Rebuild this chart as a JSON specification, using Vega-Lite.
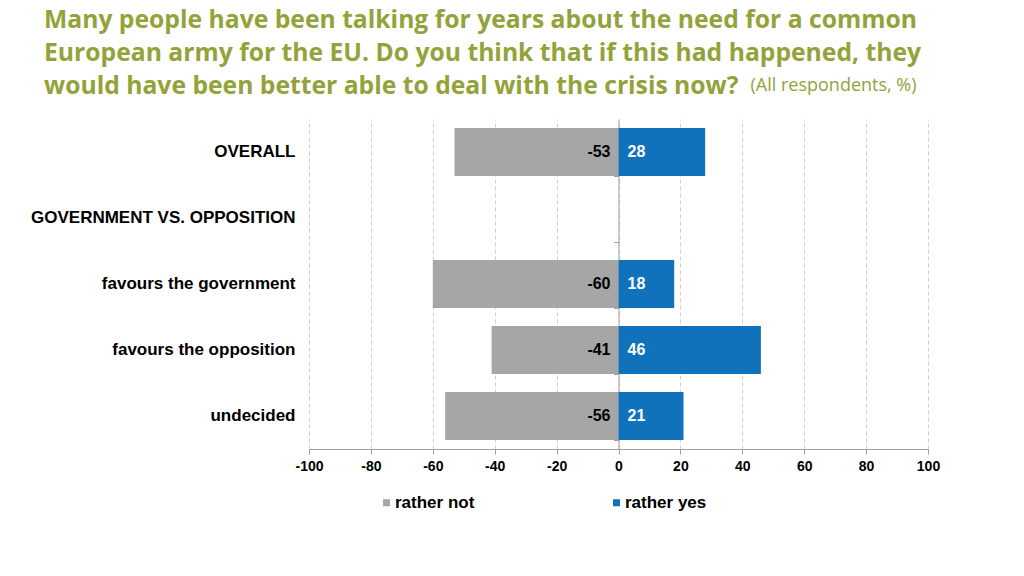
{
  "$schema": "https://vega.github.io/schema/vega-lite/v6.json",
  "autosize": "none",
  "width": 619,
  "height": 330,
  "padding": {"left": 309, "top": 119, "right": 96, "bottom": 127},
  "background": "white",
  "title": {
    "text": [
      "Many people have been talking for years about the need for a common",
      "European army for the EU. Do you think that if this had happened, they",
      "would have been better able to deal with the crisis now?"
    ],
    "subtitle": "\u200b\u2003\u2003\u2003\u2003\u2003\u2003\u2003\u2003\u2003\u2003\u2003\u2003\u2003\u2003\u2003\u2003\u2003\u2003\u2003\u2003\u2003\u2003\u2003\u2003\u2003\u2003\u2003\u2003\u2003\u2003\u2003\u2003\u2003\u2003\u2003\u2003\u2003\u2003\u2003\u2005(All respondents, %)",
    "anchor": "start",
    "frame": "group",
    "dx": -265,
    "offset": 20,
    "font": "Open Sans",
    "fontSize": 24.7,
    "fontWeight": "bold",
    "color": "#94A23A",
    "lineHeight": 33,
    "subtitleFont": "Open Sans",
    "subtitleFontSize": 18,
    "subtitleFontWeight": "normal",
    "subtitleColor": "#94A23A",
    "subtitlePadding": -22
  },
  "data": {
    "values": [
      {"group": "OVERALL", "answer": "rather not", "value": -53},
      {"group": "OVERALL", "answer": "rather yes", "value": 28},
      {"group": "favours the government", "answer": "rather not", "value": -60},
      {"group": "favours the government", "answer": "rather yes", "value": 18},
      {"group": "favours the opposition", "answer": "rather not", "value": -41},
      {"group": "favours the opposition", "answer": "rather yes", "value": 46},
      {"group": "undecided", "answer": "rather not", "value": -56},
      {"group": "undecided", "answer": "rather yes", "value": 21}
    ]
  },
  "resolve": {"axis": {"y": "independent"}},
  "layer": [
    {
      "mark": {"type": "bar"},
      "encoding": {
        "y": {
          "field": "group",
          "type": "nominal",
          "scale": {
            "domain": ["OVERALL", "GOVERNMENT VS. OPPOSITION", "favours the government", "favours the opposition", "undecided"],
            "paddingInner": 0.273,
            "paddingOuter": 0.1365
          },
          "axis": {
            "orient": "left",
            "title": null,
            "domain": false,
            "ticks": false,
            "grid": false,
            "labelPadding": 14,
            "labelFont": "Liberation Sans",
            "labelFontSize": 17,
            "labelFontWeight": "bold",
            "labelColor": "#000000",
            "labelLimit": 400
          }
        },
        "x": {
          "field": "value",
          "type": "quantitative",
          "stack": null,
          "scale": {"domain": [-100, 100], "nice": false, "zero": false},
          "axis": {
            "title": null,
            "values": [-100, -80, -60, -40, -20, 0, 20, 40, 60, 80, 100],
            "grid": true,
            "gridDash": [4, 3],
            "gridColor": "#CFCFCF",
            "gridWidth": 1,
            "domainColor": "#A0A0A0",
            "tickColor": "#A0A0A0",
            "tickSize": 5,
            "labelFlush": false,
            "labelPadding": 5,
            "labelFont": "Liberation Sans",
            "labelFontSize": 14,
            "labelFontWeight": "bold",
            "labelColor": "#000000"
          }
        },
        "color": {
          "field": "answer",
          "type": "nominal",
          "scale": {"domain": ["rather not", "rather yes"], "range": ["#A6A6A6", "#1072BA"]},
          "legend": {
            "title": null,
            "orient": "none",
            "legendX": 69,
            "legendY": 375,
            "direction": "horizontal",
            "columns": 2,
            "columnPadding": 133,
            "symbolType": "square",
            "symbolSize": 49,
            "symbolStrokeWidth": 0,
            "labelOffset": 0,
            "labelFont": "Liberation Sans",
            "labelFontSize": 17,
            "labelFontWeight": "bold",
            "labelColor": "#000000"
          }
        }
      }
    },
    {
      "transform": [{"filter": "datum.value < 0"}],
      "mark": {"type": "text", "align": "right", "baseline": "middle", "dx": -8, "font": "Liberation Sans", "fontSize": 16, "fontWeight": "bold", "color": "#000000"},
      "encoding": {
        "y": {
          "field": "group",
          "type": "nominal",
          "scale": {
            "domain": ["OVERALL", "GOVERNMENT VS. OPPOSITION", "favours the government", "favours the opposition", "undecided"],
            "paddingInner": 0.273,
            "paddingOuter": 0.1365
          },
          "axis": {
            "orient": "left",
            "offset": -309.5,
            "title": null,
            "labels": false,
            "grid": false,
            "domain": true,
            "domainColor": "#A0A0A0",
            "ticks": true,
            "tickBand": "extent",
            "tickColor": "#A0A0A0",
            "tickSize": 5
          }
        },
        "x": {"datum": 0, "type": "quantitative"},
        "text": {"field": "value", "type": "quantitative"}
      }
    },
    {
      "transform": [{"filter": "datum.value > 0"}],
      "mark": {"type": "text", "align": "left", "baseline": "middle", "dx": 9, "font": "Liberation Sans", "fontSize": 16, "fontWeight": "bold", "color": "#FFFFFF"},
      "encoding": {
        "y": {
          "field": "group",
          "type": "nominal",
          "scale": {
            "domain": ["OVERALL", "GOVERNMENT VS. OPPOSITION", "favours the government", "favours the opposition", "undecided"],
            "paddingInner": 0.273,
            "paddingOuter": 0.1365
          },
          "axis": null
        },
        "x": {"datum": 0, "type": "quantitative"},
        "text": {"field": "value", "type": "quantitative"}
      }
    }
  ],
  "config": {
    "view": {"stroke": null},
    "locale": {
      "number": {"decimal": ".", "thousands": ",", "grouping": [3], "currency": ["$", ""], "minus": "-"}
    }
  }
}
